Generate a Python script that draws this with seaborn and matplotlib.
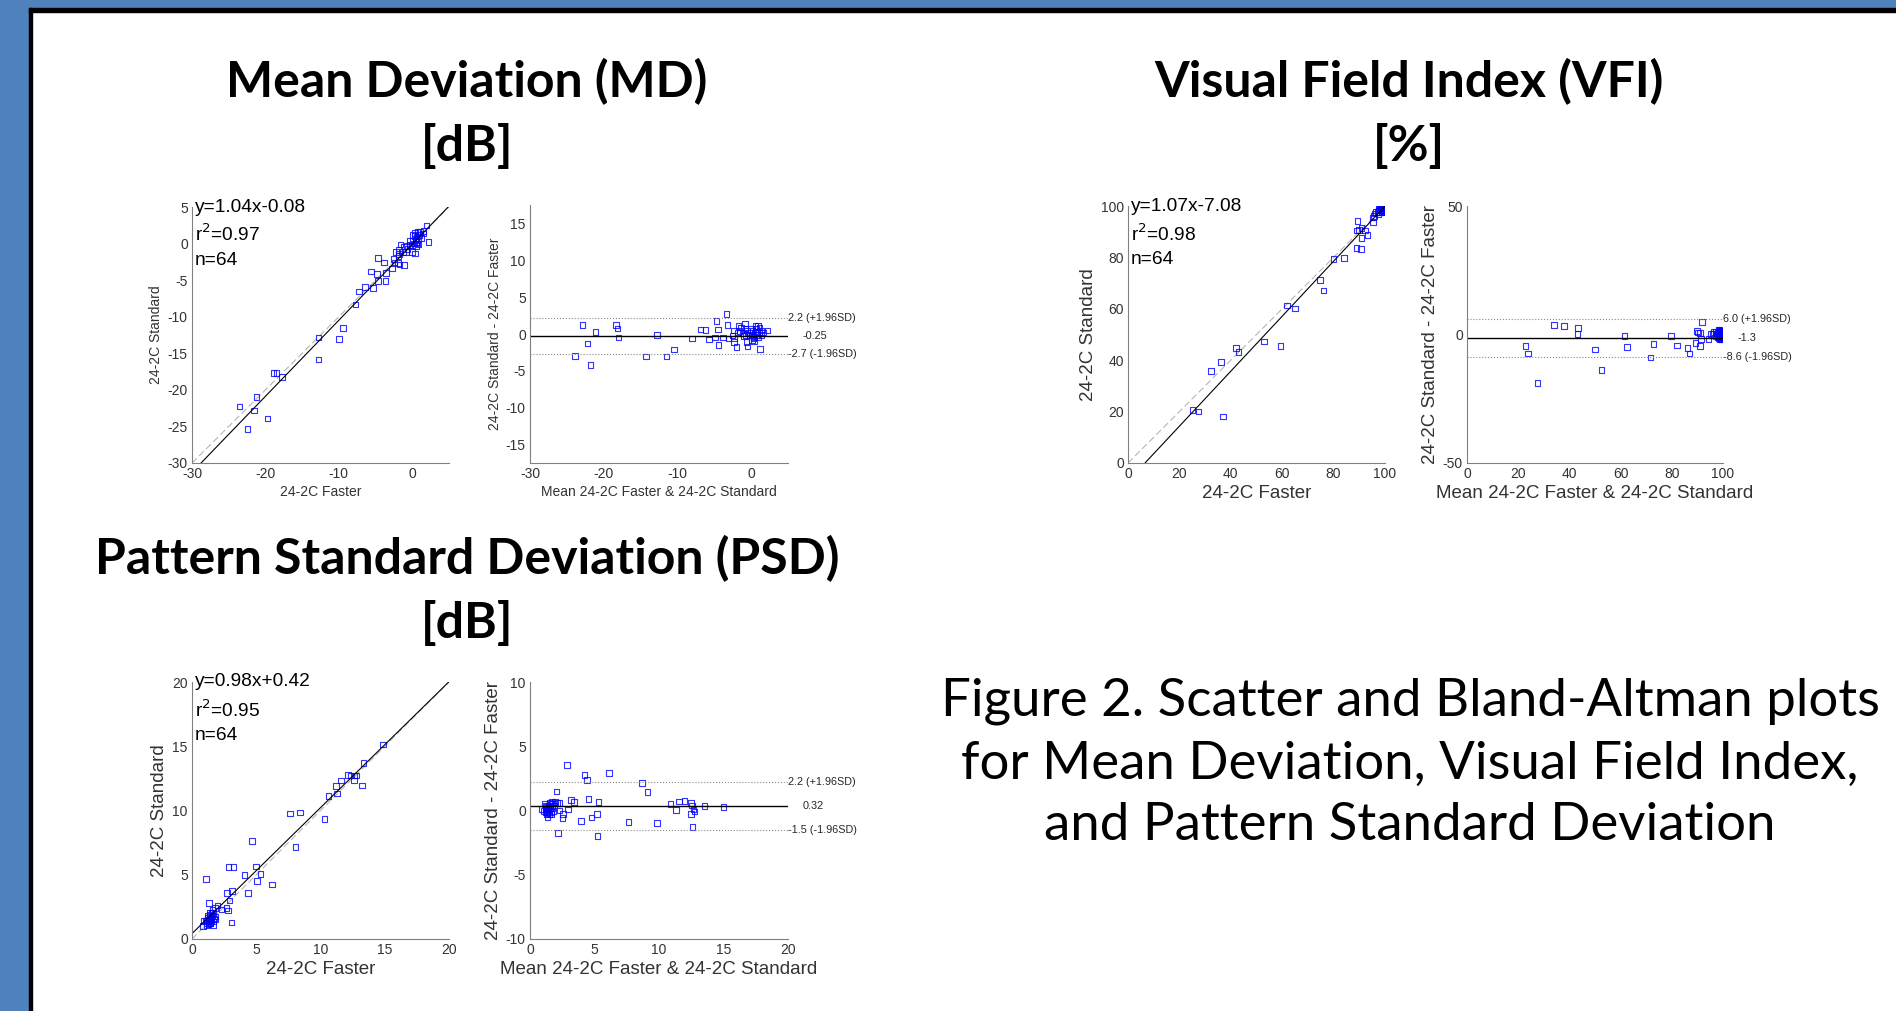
import matplotlib
matplotlib.use("Agg")
import matplotlib.pyplot as plt
from matplotlib.patches import Rectangle
import numpy as np
import seaborn as sns

# --- Bland-Altman readings: mean of both tests, and Standard minus Faster ---
md_mean = [-23.9, -22.9, -22.2, -21.8, -21.1, -18.3, -18.1, -18.0, -14.3, -12.8,
           -11.5, -10.5, -8.05, -6.9, -6.2, -5.7, -4.9, -4.7, -4.5, -4.4,
           -3.8, -3.35, -3.2, -3.1, -2.35, -2.3, -2.3, -2.0, -1.8, -1.7,
           -1.35, -1.2, -0.86, -0.77, -0.6, -0.5, -0.54, -0.14, 0.0, 0.14,
           0.32, 0.36, 0.5, 0.6, 0.68, 0.77, 0.9, 1.04, 1.13, 1.2,
           1.4, 2.2, -2.5, -1.6, -1.0, -0.3, 0.2, 0.4, 0.8, 1.0,
           1.3, 0.1, -0.7, 1.6]
md_diff = [-2.95, 1.23, -1.27, -4.2, 0.27, 1.23, 0.77, -0.5, -3.05, -0.1,
           -3.05, -2.1, -0.6, 0.64, 0.55, -0.73, -0.45, 1.8, 0.64, -1.5,
           -0.5, 2.7, 1.23, -0.6, 0.45, -0.64, -1.1, -1.8, 0.2, 1.1,
           0.9, 0.1, 1.45, 0.77, -1.1, -1.7, 0.45, -0.23, 0.68, -0.23,
           -0.6, -1.0, 0.14, 1.1, 0.68, -0.1, 1.1, 0.23, 0.9, -2.0,
           -0.1, 0.5, -0.2, 0.4, -0.3, 0.2, 0.4, -0.4, 0.3, -0.5,
           0.5, -0.8, -0.1, 0.2]

vfi_mean = [22.9, 23.8, 27.5, 34.0, 37.8, 43.1, 43.4, 50.1, 52.5, 61.6,
            62.6, 71.6, 72.9, 79.6, 82.0, 86.2, 87.0, 89.2, 89.8, 90.2,
            91.0, 91.1, 91.4, 91.7, 94.4, 95.4, 95.9, 97.0, 97.4, 98.3,
            98.7, 99.0, 99.2, 99.5, 99.7, 99.8, 96.5, 97.2, 97.8, 98.0,
            98.4, 98.6, 98.8, 99.0, 99.1, 99.2, 99.3, 99.4, 99.5, 99.5,
            99.6, 99.6, 99.7, 99.7, 99.8, 99.8, 99.9, 99.9, 100.0, 99.4,
            98.9, 99.2, 99.0, 98.2]
vfi_diff = [-4.4, -7.4, -18.9, 3.6, 3.2, 0.1, 2.6, -5.8, -13.8, -0.6,
            -4.9, -8.9, -3.6, -0.6, -4.3, -5.3, -7.4, -3.2, 1.3, 0.8,
            -4.4, 0.6, -1.7, 4.9, -1.7, 0.1, 0.4, 1.2, 0.4, 1.7,
            -1.7, -0.3, 0.8, -0.9, 0.1, 0.0, 1.0, -0.5, 0.8, -1.2,
            0.3, 1.5, -0.6, 0.9, -1.5, 0.2, -0.8, 1.1, 0.4, -0.3,
            0.7, -0.9, 0.0, 0.5, -0.2, 0.3, 0.0, -0.1, 0.0, -1.8,
            2.0, 1.6, -2.0, -1.6]

psd_mean = [0.93, 1.14, 1.22, 1.27, 1.32, 1.37, 1.42, 1.48, 1.53, 1.6,
            1.66, 1.71, 1.79, 1.84, 1.92, 2.05, 2.1, 2.18, 2.3, 2.3,
            2.51, 2.56, 2.88, 2.95, 3.16, 3.42, 3.96, 4.22, 4.43, 4.53,
            4.77, 5.18, 5.23, 5.31, 6.14, 7.62, 8.7, 9.12, 9.84, 10.88,
            11.3, 11.55, 11.97, 12.46, 12.46, 12.54, 12.6, 12.67, 12.75, 13.52,
            15.0, 1.2, 1.3, 1.4, 1.5, 1.6, 1.25, 1.45, 1.7, 1.35,
            1.55, 1.1, 1.8, 1.65]
psd_diff = [0.13, 0.52, -0.13, 0.26, -0.26, -0.52, 0.39, 0.0, 0.6, 0.18,
            -0.26, 0.65, -0.08, 0.39, 0.65, 1.48, 0.6, -1.76, 0.6, 0.0,
            -0.6, -0.26, 3.55, 0.08, 0.83, 0.65, -0.8, 2.75, 2.38, 0.88,
            -0.54, -0.28, -2.0, 0.65, 2.93, -0.88, 2.12, 1.42, -0.96, 0.49,
            0.05, 0.7, 0.75, 0.6, -0.26, 0.39, -1.3, 0.08, -0.08, 0.34,
            0.28, 0.1, -0.1, 0.2, -0.3, 0.5, 0.35, 0.05, 0.2, -0.2,
            0.3, -0.05, 0.55, -0.1]

# regression fits printed on the scatter plots (slope, intercept, r^2)
md_fit = (1.04, -0.08, 0.97)
vfi_fit = (1.07, -7.08, 0.98)
psd_fit = (0.98, 0.42, 0.95)
n_eyes = 64

# limits of agreement (upper, mean, lower) and their labels
md_loa = (2.2, -0.25, -2.7)
md_loa_text = ["2.2 (+1.96SD)", "-0.25", "-2.7 (-1.96SD)"]
vfi_loa = (6.0, -1.3, -8.6)
vfi_loa_text = ["6.0 (+1.96SD)", "-1.3", "-8.6 (-1.96SD)"]
psd_loa = (2.2, 0.32, -1.5)
psd_loa_text = ["2.2 (+1.96SD)", "0.32", "-1.5 (-1.96SD)"]

titles = [("Mean Deviation (MD)", "[dB]"),
          ("Visual Field Index (VFI)", "[%]"),
          ("Pattern Standard Deviation (PSD)", "[dB]")]
caption = ["Figure 2. Scatter and Bland-Altman plots",
           "for Mean Deviation, Visual Field Index,",
           "and Pattern Standard Deviation"]

sns.set_style("white")
plt.rcParams["font.family"] = ["Liberation Sans", "DejaVu Sans"]
plt.rcParams["axes.unicode_minus"] = False

W, H = 1896, 1011
fig = plt.figure(figsize=(W / 100, H / 100), dpi=100)

# slide frame: blue bar left and top, thin black edge
blue = "#4F81BD"
fig.add_artist(Rectangle((0, 0), 29 / W, 1, transform=fig.transFigure, color=blue, zorder=-5))
fig.add_artist(Rectangle((0, 1 - 8 / H), 1, 8 / H, transform=fig.transFigure, color=blue, zorder=-5))
fig.add_artist(Rectangle((29 / W, 0), 3 / W, 1 - 8 / H, transform=fig.transFigure, color="black", zorder=-4))
fig.add_artist(Rectangle((29 / W, 1 - 12 / H), 1, 4 / H, transform=fig.transFigure, color="black", zorder=-4))


def add_axes(x0, y0, x1, y1):
    # pixel box (left, top, right, bottom) -> figure fraction
    return fig.add_axes([x0 / W, 1 - y1 / H, (x1 - x0) / W, (y1 - y0) / H])


def style_axes(ax):
    sns.despine(ax=ax)
    for s in ["left", "bottom"]:
        ax.spines[s].set_color("#808080")
        ax.spines[s].set_linewidth(0.8)
    ax.tick_params(direction="in", length=2.5, width=0.6, color="#808080",
                   labelcolor="#333333", labelsize=10, pad=3)


def squares(ax, x, y):
    sns.scatterplot(x=x, y=y, ax=ax, marker="s", s=16, linewidth=0.8, legend=False)
    pts = ax.collections[-1]
    pts.set_facecolor("none")
    pts.set_edgecolor((0, 0, 1, 0.8))


def scatter_panel(ax, mean, diff, fit, lims, ticks, lab_size):
    mean = np.asarray(mean)
    diff = np.asarray(diff)
    faster = mean - diff / 2
    standard = mean + diff / 2
    ax.axline((0, 0), slope=1, color="#b5b5b5", lw=0.8, ls=(0, (6, 3)), zorder=1)
    ax.axline((0, fit[1]), slope=fit[0], color="black", lw=0.8, zorder=2)
    squares(ax, faster, standard)
    ax.set_xlim(lims)
    ax.set_ylim(lims)
    ax.set_xticks(ticks[0])
    ax.set_yticks(ticks[1])
    style_axes(ax)
    ax.set_xlabel("24-2C Faster", fontsize=lab_size, color="#333333", labelpad=3)
    ax.set_ylabel("24-2C Standard", fontsize=lab_size, color="#333333", labelpad=3)
    txt = dict(transform=ax.transAxes, ha="left", va="center", fontsize=13.8, color="black")
    ax.text(0.012, 1.0, f"y={fit[0]:.2f}x{fit[1]:+.2f}", **txt)
    ax.text(0.012, 0.892, f"r$^2$={fit[2]:.2f}", **txt)
    ax.text(0.012, 0.79, f"n={n_eyes}", **txt)


def ba_panel(ax, mean, diff, loa, loa_text, xlim, ylim, xticks, yticks, lab_size):
    ax.axhline(loa[0], color="#8a8a8a", lw=0.8, ls=":")
    ax.axhline(loa[2], color="#8a8a8a", lw=0.8, ls=":")
    ax.axhline(loa[1], color="black", lw=1.0)
    squares(ax, mean, diff)
    ax.set_xlim(xlim)
    ax.set_ylim(ylim)
    ax.set_xticks(xticks)
    ax.set_yticks(yticks)
    style_axes(ax)
    ax.set_xlabel("Mean 24-2C Faster & 24-2C Standard", fontsize=lab_size,
                  color="#333333", labelpad=3)
    ax.set_ylabel("24-2C Standard - 24-2C Faster", fontsize=lab_size,
                  color="#333333", labelpad=3)
    tr = ax.get_yaxis_transform()
    txt = dict(transform=tr, ha="left", va="center", fontsize=7.8, color="#262626")
    ax.text(1.0, loa[0], loa_text[0], **txt)
    ax.text(1.058, loa[1], loa_text[1], **txt)
    ax.text(1.0, loa[2], loa_text[2], **txt)


# Mean Deviation
ax = add_axes(192, 207, 449, 463)
scatter_panel(ax, md_mean, md_diff, md_fit, (-30, 5),
              (np.arange(-30, 1, 10), np.arange(-30, 6, 5)), 10)
ax = add_axes(530, 205, 788, 463)
ba_panel(ax, md_mean, md_diff, md_loa, md_loa_text, (-30, 5), (-17.5, 17.5),
         np.arange(-30, 1, 10), np.arange(-15, 16, 5), 10)

# Visual Field Index
ax = add_axes(1128, 206, 1385, 463)
scatter_panel(ax, vfi_mean, vfi_diff, vfi_fit, (0, 100),
              (np.arange(0, 101, 20), np.arange(0, 101, 20)), 13.5)
ax = add_axes(1467, 206, 1723, 463)
ba_panel(ax, vfi_mean, vfi_diff, vfi_loa, vfi_loa_text, (0, 100), (-50, 50),
         np.arange(0, 101, 20), [-50, 0, 50], 13.5)

# Pattern Standard Deviation
ax = add_axes(192, 682, 449, 939)
scatter_panel(ax, psd_mean, psd_diff, psd_fit, (0, 20),
              (np.arange(0, 21, 5), np.arange(0, 21, 5)), 13.5)
ax = add_axes(530, 682, 788, 939)
ba_panel(ax, psd_mean, psd_diff, psd_loa, psd_loa_text, (0, 20), (-10, 10),
         np.arange(0, 21, 5), np.arange(-10, 11, 5), 13.5)

# panel titles
title_font = ["Lato", "DejaVu Sans"]
for (l1, l2), cx, y1 in zip(titles, [467, 1409, 467], [82, 82, 559]):
    fig.text(cx / W, 1 - y1 / H, l1, ha="center", va="center", fontsize=36,
             fontweight="bold", family=title_font, color="black")
    fig.text(cx / W, 1 - (y1 + 64) / H, l2, ha="center", va="center", fontsize=36,
             fontweight="bold", family=title_font, color="black")

for line, y in zip(caption, [701, 764, 826]):
    fig.text(1410 / W, 1 - y / H, line, ha="center", va="center", fontsize=38,
             family=title_font, color="black")

fig.savefig("out.png", dpi=100)
